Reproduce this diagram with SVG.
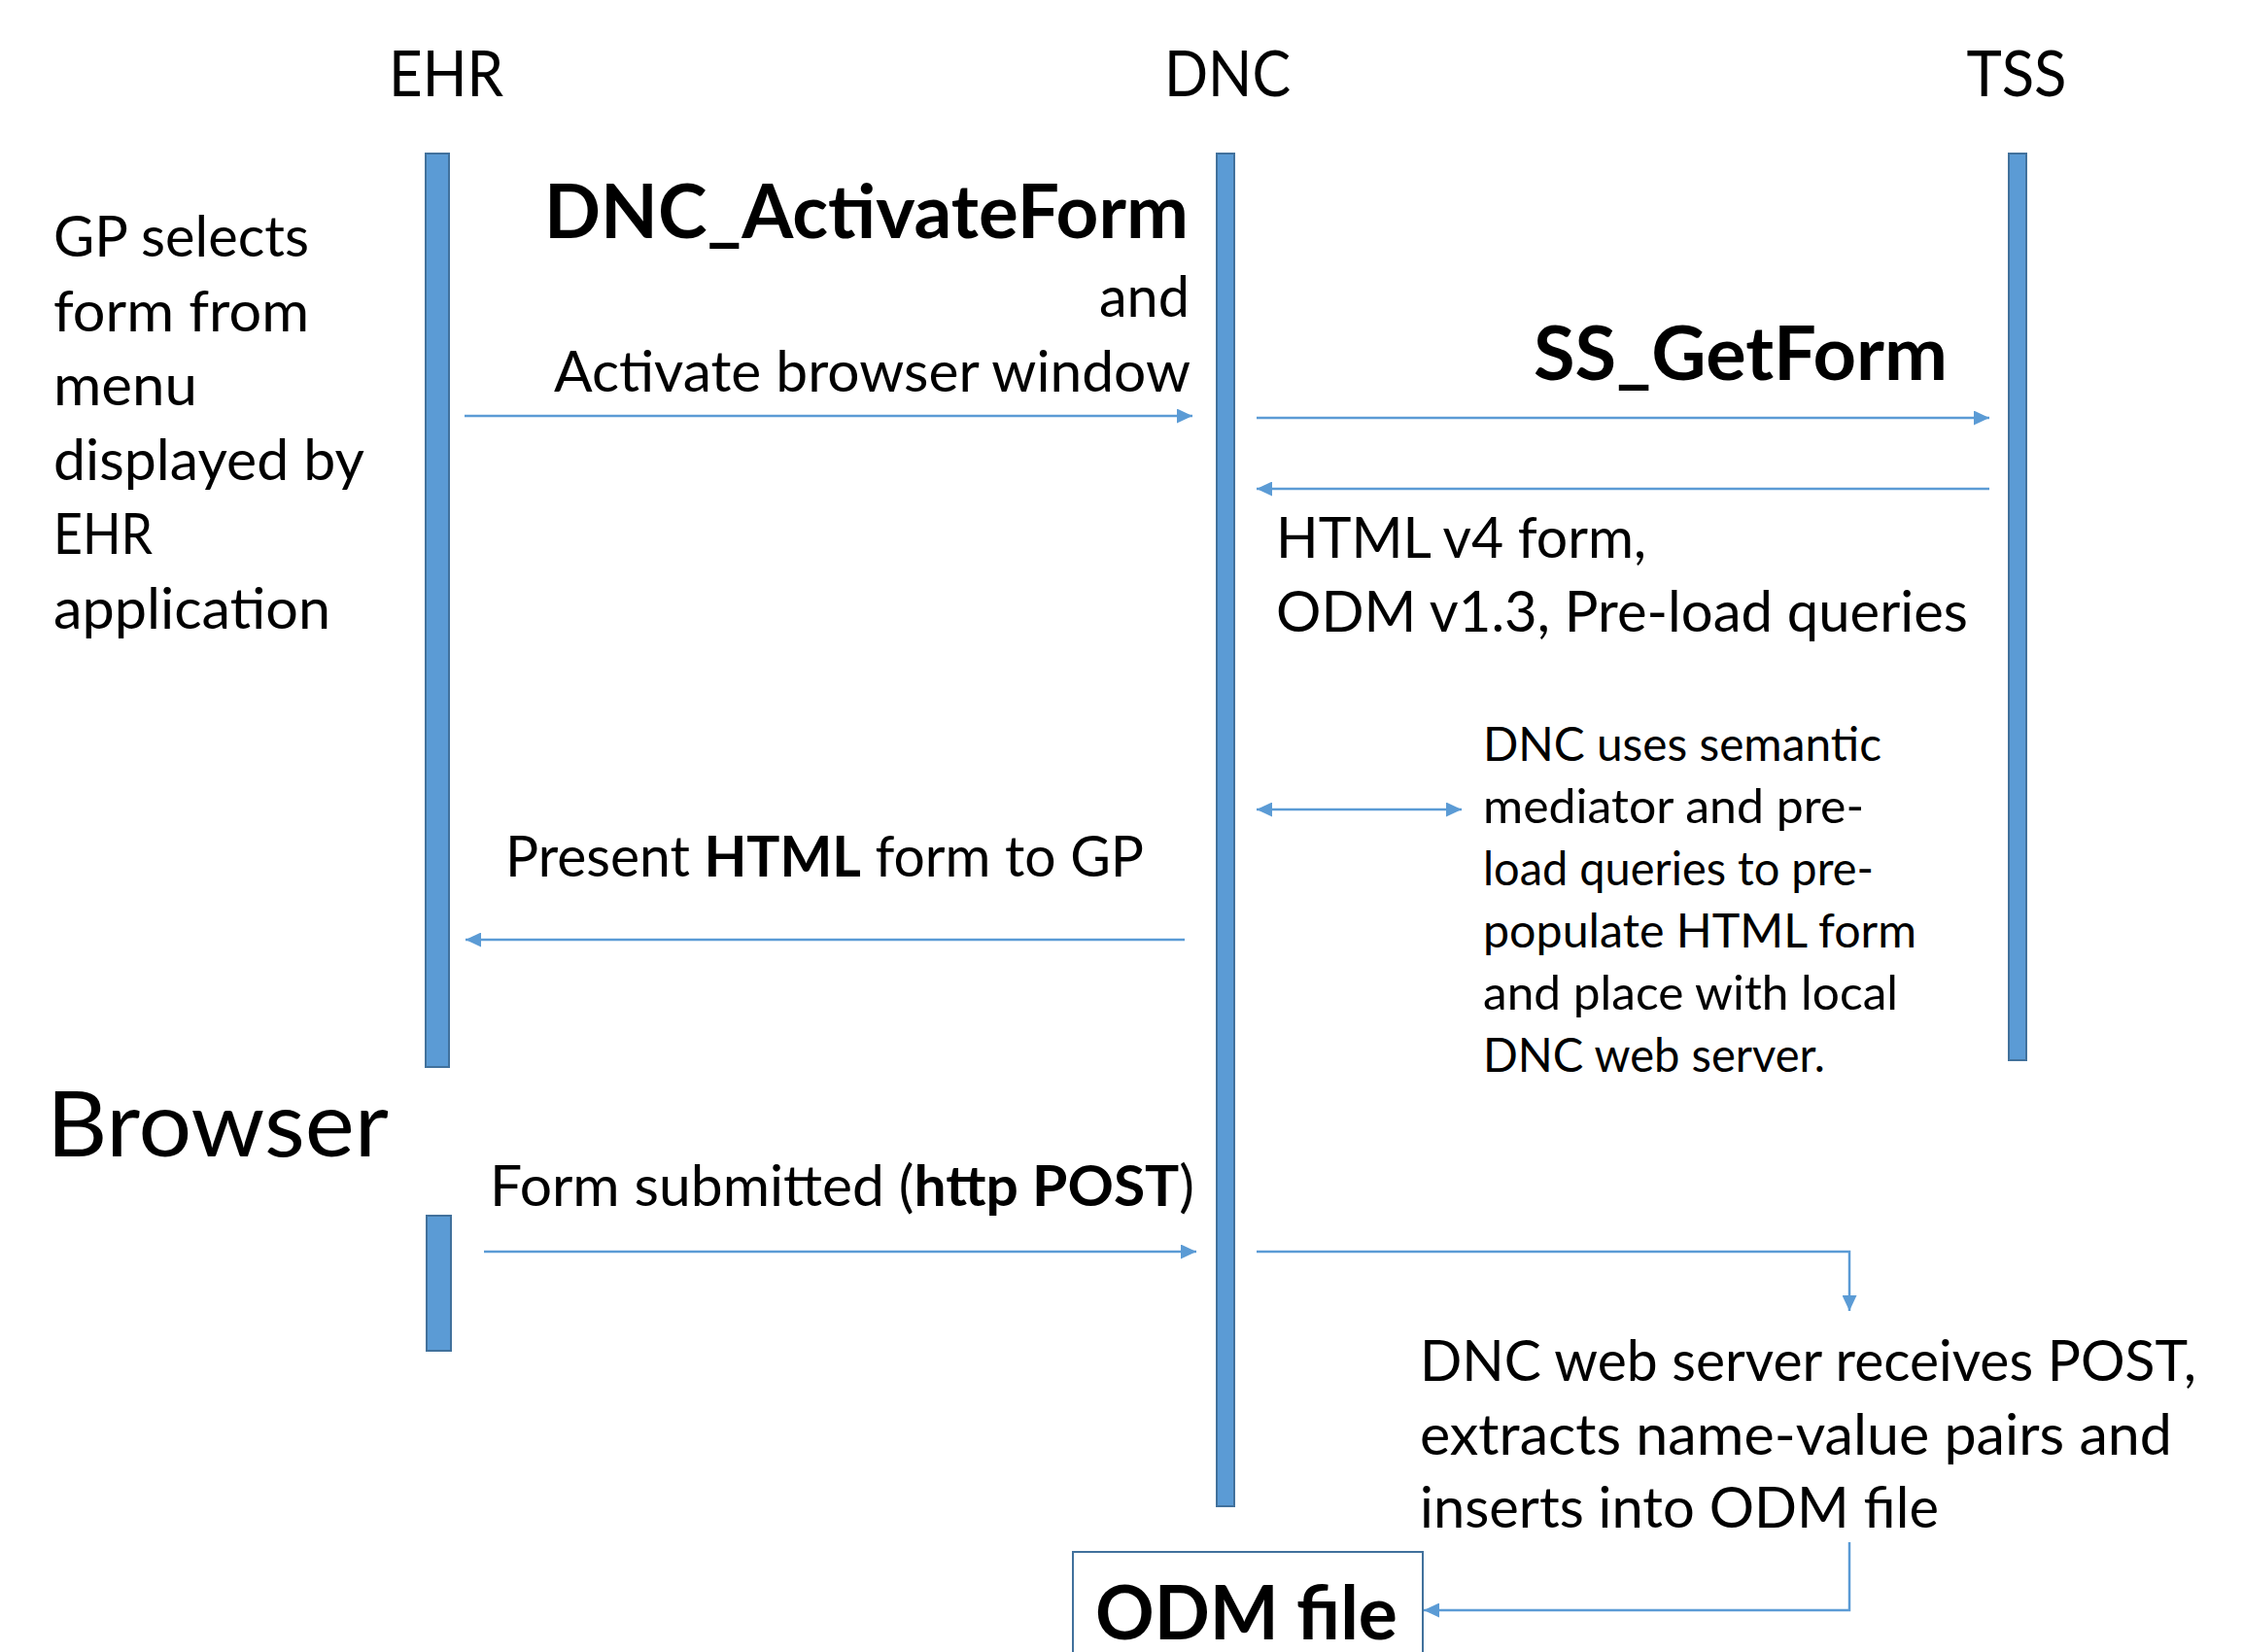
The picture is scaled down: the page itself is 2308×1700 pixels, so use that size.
<svg xmlns="http://www.w3.org/2000/svg" width="2308" height="1700" viewBox="0 0 2308 1700">
<defs>
<style>
text{font-family:Lato,"Open Sans","Liberation Sans",sans-serif;fill:#000}
.hdr{font-size:65px;text-anchor:middle}
.m{font-size:57.6px}
.s{font-size:47.5px}
.big{font-size:77px;font-weight:bold}
.b{font-weight:bold}
.bar{fill:#5B9BD5;stroke:#41719C;stroke-width:2}
.ln{fill:none;stroke:#5B9BD5;stroke-width:2.5}
</style>
<marker id="ah" markerUnits="userSpaceOnUse" markerWidth="16" markerHeight="15" refX="16" refY="7.5" orient="auto-start-reverse" viewBox="0 0 16 15">
<path d="M0,0 L16,7.5 L0,15 z" fill="#5B9BD5"/>
</marker>
</defs>
<rect width="2308" height="1700" fill="#fff"/>

<g id="ehr">
<text class="hdr" x="459" y="99" textLength="118" lengthAdjust="spacingAndGlyphs">EHR</text>
<rect class="bar" x="438" y="158" width="24" height="940"/>
</g>
<g id="dnc">
<text class="hdr" x="1263" y="99" textLength="130" lengthAdjust="spacingAndGlyphs">DNC</text>
<rect class="bar" x="1252" y="158" width="18" height="1392"/>
</g>
<g id="tss">
<text class="hdr" x="2075" y="99" textLength="103" lengthAdjust="spacingAndGlyphs">TSS</text>
<rect class="bar" x="2067" y="158" width="18" height="933"/>
</g>
<g id="browser">
<text x="48" y="1190" style="font-size:94px" textLength="352" lengthAdjust="spacingAndGlyphs">Browser</text>
<rect class="bar" x="439" y="1251" width="25" height="139"/>
</g>
<g id="odm-file">
<rect x="1104" y="1597" width="360" height="120" fill="#fff" stroke="#41719C" stroke-width="2"/>
<text class="big" x="1127" y="1687" textLength="311" lengthAdjust="spacingAndGlyphs">ODM file</text>
</g>

<g id="notes">
<text class="m" x="55" y="264" textLength="263" lengthAdjust="spacingAndGlyphs">GP selects</text>
<text class="m" x="55" y="340.6" textLength="263" lengthAdjust="spacingAndGlyphs">form from</text>
<text class="m" x="55" y="417.2" textLength="148" lengthAdjust="spacingAndGlyphs">menu</text>
<text class="m" x="55" y="493.8" textLength="320" lengthAdjust="spacingAndGlyphs">displayed by</text>
<text class="m" x="55" y="570.4" textLength="102" lengthAdjust="spacingAndGlyphs">EHR</text>
<text class="m" x="55" y="647" textLength="285" lengthAdjust="spacingAndGlyphs">application</text>

<text class="big" x="560" y="245" textLength="663" lengthAdjust="spacingAndGlyphs">DNC_ActivateForm</text>
<text class="m" x="1224" y="326" text-anchor="end">and</text>
<text class="m" x="570" y="403" textLength="655" lengthAdjust="spacingAndGlyphs">Activate browser window</text>

<text class="big" x="1578" y="391" textLength="426" lengthAdjust="spacingAndGlyphs">SS_GetForm</text>

<text class="m" x="1313" y="574" textLength="381" lengthAdjust="spacingAndGlyphs">HTML v4 form,</text>
<text class="m" x="1313" y="650" textLength="712" lengthAdjust="spacingAndGlyphs">ODM v1.3, Pre-load queries</text>

<text class="s" x="1526" y="783" textLength="410" lengthAdjust="spacingAndGlyphs">DNC uses semantic</text>
<text class="s" x="1526" y="847" textLength="392" lengthAdjust="spacingAndGlyphs">mediator and pre-</text>
<text class="s" x="1526" y="911" textLength="402" lengthAdjust="spacingAndGlyphs">load queries to pre-</text>
<text class="s" x="1526" y="975" textLength="446" lengthAdjust="spacingAndGlyphs">populate HTML form</text>
<text class="s" x="1526" y="1039" textLength="427" lengthAdjust="spacingAndGlyphs">and place with local</text>
<text class="s" x="1526" y="1103" textLength="352" lengthAdjust="spacingAndGlyphs">DNC web server.</text>

<text class="m" x="520" y="902" textLength="657" lengthAdjust="spacingAndGlyphs">Present <tspan class="b">HTML</tspan> form to GP</text>
<text class="m" x="504" y="1241" textLength="725" lengthAdjust="spacingAndGlyphs">Form submitted (<tspan class="b">http POST</tspan>)</text>

<text class="m" x="1461" y="1421" textLength="799" lengthAdjust="spacingAndGlyphs">DNC web server receives POST,</text>
<text class="m" x="1461" y="1497" textLength="774" lengthAdjust="spacingAndGlyphs">extracts name-value pairs and</text>
<text class="m" x="1461" y="1572" textLength="534" lengthAdjust="spacingAndGlyphs">inserts into ODM file</text>
</g>

<g id="connectors">
<path class="ln" d="M478,428 L1227,428" marker-end="url(#ah)"/>
<path class="ln" d="M1293,430 L2047,430" marker-end="url(#ah)"/>
<path class="ln" d="M2047,503 L1293,503" marker-end="url(#ah)"/>
<path class="ln" d="M1293,833 L1504,833" marker-start="url(#ah)" marker-end="url(#ah)"/>
<path class="ln" d="M1219,967 L479,967" marker-end="url(#ah)"/>
<path class="ln" d="M498,1288 L1231,1288" marker-end="url(#ah)"/>
<path class="ln" d="M1293,1288 L1903,1288 L1903,1349" marker-end="url(#ah)"/>
<path class="ln" d="M1903,1587 L1903,1657 L1465,1657" marker-end="url(#ah)"/>
</g>
</svg>
